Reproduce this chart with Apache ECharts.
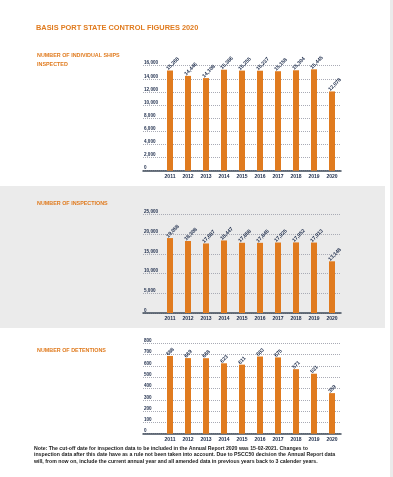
<!DOCTYPE html>
<html><head><meta charset="utf-8">
<script src="https://cdn.jsdelivr.net/npm/echarts@6/dist/echarts.min.js"></script>
<style>html,body{margin:0;padding:0;background:#fff;}#c{width:393px;height:477px;}</style>
</head><body><div id="c"></div>
<script>
const years = ['2011','2012','2013','2014','2015','2016','2017','2018','2019','2020'];
const shipsInspected = [15268, 14446, 14108, 15386, 15255, 15237, 15158, 15304, 15445, 12078];
const inspections = [19058, 18308, 17687, 18447, 17858, 17845, 17925, 17952, 17913, 13148];
const detentions = [688, 669, 668, 623, 611, 683, 675, 571, 531, 359];
const yTicks1 = {min: 0, max: 16000, interval: 2000};
const yTicks2 = {min: 0, max: 25000, interval: 5000};
const yTicks3 = {min: 0, max: 800, interval: 100};

const ORANGE = '#e07b1f';
const NAVY = '#1c2b4a';
const FONT = 'Liberation Sans';
const chart = echarts.init(document.getElementById('c'), null, {renderer: 'canvas'});

const grids = [
  {left: 143, width: 198, top: 65.7, height: 105},
  {left: 143, width: 198, top: 214.7, height: 98.3},
  {left: 143, width: 198, top: 343.3, height: 90.4}
];
const cats = [''].concat(years);
function xAxis(i){
  return {type: 'category', gridIndex: i, data: cats, boundaryGap: true,
    axisLine: {lineStyle: {color: '#3e4a58', width: 1.5}},
    axisTick: {show: false},
    axisLabel: {color: NAVY, fontSize: 5, fontWeight: 'bold', fontFamily: FONT, margin: 3, interval: 0}};
}
function yAxis(i, t){
  return {type: 'value', gridIndex: i, min: t.min, max: t.max, interval: t.interval,
    axisLine: {show: false}, axisTick: {show: false},
    splitLine: {lineStyle: {color: '#a9abb5', type: [1, 1], width: 1}},
    axisLabel: {color: NAVY, fontSize: 4.6, fontWeight: 'bold', fontFamily: FONT, align: 'left', verticalAlign: 'bottom', margin: -1,
      formatter: v => v.toLocaleString('en-US')}};
}
function series(i, vals){
  return {type: 'bar', xAxisIndex: i, yAxisIndex: i, data: [null].concat(vals), barWidth: 6,
    itemStyle: {color: ORANGE},
    label: {show: true, position: 'top', distance: 4, rotate: 45, align: 'left', verticalAlign: 'middle',
      color: NAVY, fontSize: 5.2, fontWeight: 'bold', fontFamily: FONT, offset: [-4, 0],
      formatter: p => p.value == null ? '' : p.value.toLocaleString('en-US')}};
}
function txt(x, y, s, size, color, weight){
  return {type: 'text', left: x, top: y, silent: true,
    style: {text: s, fill: color, font: (weight||'bold') + ' ' + size + 'px "' + FONT + '"'}};
}
const note = [
  'Note: The cut-off date for inspection data to be included in the Annual Report 2020 was 15-02-2021. Changes to',
  'inspection data after this date have as a rule not been taken into account. Due to PSCC50 decision the Annual Report data',
  'will, from now on, include the current annual year and all amended data in previous years back to 3 calender years.'
];
chart.setOption({
  animation: false,
  backgroundColor: '#ffffff',
  graphic: [
    {type: 'rect', z: -10, shape: {x: 0, y: 186, width: 385, height: 142}, style: {fill: '#ebebeb'}},
    {type: 'rect', z: -10, shape: {x: 390, y: 0, width: 3, height: 477}, style: {fill: '#ebebeb'}},
    txt(36, 24, 'BASIS PORT STATE CONTROL FIGURES 2020', 7.4, ORANGE),
    txt(37, 53.5, 'NUMBER OF INDIVIDUAL SHIPS', 5.4, ORANGE),
    txt(37, 62.5, 'INSPECTED', 5.4, ORANGE),
    txt(37, 201, 'NUMBER OF INSPECTIONS', 5.4, ORANGE),
    txt(37, 348.5, 'NUMBER OF DETENTIONS', 5.4, ORANGE),
    txt(34, 446, note[0], 5.2, '#222222'),
    txt(34, 452.4, note[1], 5.2, '#222222'),
    txt(34, 458.8, note[2], 5.2, '#222222')
  ],
  grid: grids,
  xAxis: [xAxis(0), xAxis(1), xAxis(2)],
  yAxis: [yAxis(0, yTicks1), yAxis(1, yTicks2), yAxis(2, yTicks3)],
  series: [series(0, shipsInspected), series(1, inspections), series(2, detentions)]
});
</script></body></html>
